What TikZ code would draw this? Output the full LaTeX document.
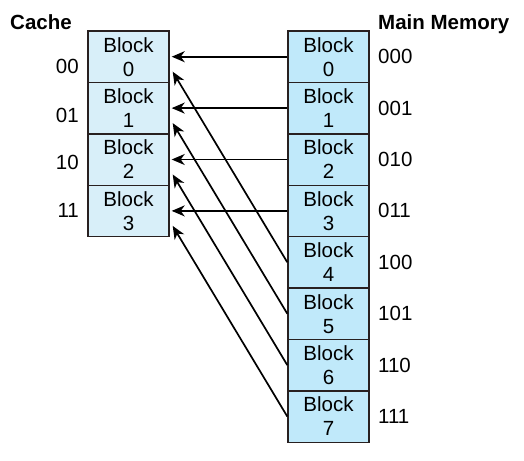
\documentclass[tikz,border=0pt]{standalone}
\usepackage{fontspec}
\setmainfont{Liberation Sans}
\usetikzlibrary{arrows.meta}

\definecolor{cachefill}{RGB}{216,239,249}
\definecolor{memfill}{RGB}{192,233,250}
\definecolor{edgecol}{RGB}{40,32,32}

\begin{document}
\begin{tikzpicture}[x=1pt,y=-1pt,>={Stealth[length=13pt,width=11pt,inset=4pt]},
    every node/.style={font=\fontsize{20.5}{24}\selectfont,inner sep=0pt},
    blk/.style={draw=edgecol,line width=1.4pt,minimum width=81pt,minimum height=51.4pt,align=center},
    cblk/.style={blk,fill=cachefill},
    mblk/.style={blk,fill=memfill},
    map/.style={->,line width=1.7pt}]
  \useasboundingbox (0,0) rectangle (524,460);
  \coordinate (AX) at (378,0);

  % Column headings.
  \node[anchor=base west,font=\fontsize{20.5}{24}\selectfont\bfseries] (ctitle) at (10,30) {Cache};
  \node[anchor=base west,font=\fontsize{20.5}{24}\selectfont\bfseries] (mtitle) at (378,30) {Main Memory};

  % Main memory blocks.
  \node[mblk] (m0) at (328.5,56.7) {Block\\0};
  \node[mblk] (m1) at (328.5,108.1) {Block\\1};
  \node[mblk] (m2) at (328.5,159.5) {Block\\2};
  \node[mblk] (m3) at (328.5,210.9) {Block\\3};
  \node[mblk] (m4) at (328.5,262.3) {Block\\4};
  \node[mblk] (m5) at (328.5,313.7) {Block\\5};
  \node[mblk] (m6) at (328.5,365.1) {Block\\6};
  \node[mblk] (m7) at (328.5,416.5) {Block\\7};

  % Cache lines.
  \node[cblk] (c0) at (128.5,56.7) {Block\\0};
  \node[cblk] (c1) at (128.5,108.1) {Block\\1};
  \node[cblk] (c2) at (128.5,159.5) {Block\\2};
  \node[cblk] (c3) at (128.5,210.9) {Block\\3};

  % Addresses.
  \node[anchor=east] (a00) at (79,66) {00};
  \node[anchor=east] (a01) at (79,115) {01};
  \node[anchor=east] (a10) at (79,162.5) {10};
  \node[anchor=east] (a11) at (79,210.5) {11};
  \node[anchor=west] (a000) at (AX |- m0) {000};
  \node[anchor=west] (a001) at (AX |- m1) {001};
  \node[anchor=west] (a010) at (AX |- m2) {010};
  \node[anchor=west] (a011) at (AX |- m3) {011};
  \node[anchor=west] (a100) at (AX |- m4) {100};
  \node[anchor=west] (a101) at (AX |- m5) {101};
  \node[anchor=west] (a110) at (AX |- m6) {110};
  \node[anchor=west] (a111) at (AX |- m7) {111};

  % Direct mapping: block j goes to line j mod 4.
  \draw[map] (m0.west) -- ([xshift=2pt]c0.east);
  \draw[map] (m1.west) -- ([xshift=2pt]c1.east);
  \draw[map] (m2.west) -- ([xshift=2pt]c2.east);
  \draw[map] (m3.west) -- ([xshift=2pt]c3.east);
  \draw[map] (m4.west) -- ([xshift=3pt,yshift=-15pt]c0.east);
  \draw[map] (m5.west) -- ([xshift=3pt,yshift=-15pt]c1.east);
  \draw[map] (m6.west) -- ([xshift=3pt,yshift=-15pt]c2.east);
  \draw[map] (m7.west) -- ([xshift=3pt,yshift=-15pt]c3.east);
\end{tikzpicture}
\end{document}
